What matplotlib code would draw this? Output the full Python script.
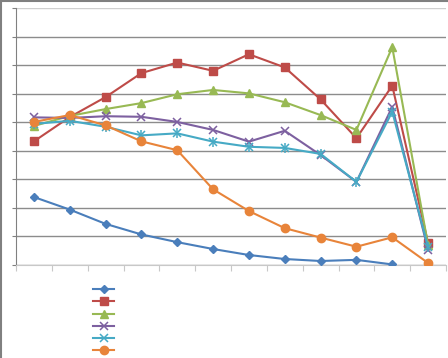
import numpy as np
import matplotlib.pyplot as plt
from matplotlib.lines import Line2D

### Data (gridline units, 0..9)

x = np.arange(12)

serie_1 = [2.38, 1.94, 1.44, 1.07, 0.80, 0.56, 0.35, 0.21, 0.14, 0.18, 0.02, np.nan]
serie_2 = [4.33, 5.18, 5.88, 6.72, 7.09, 6.80, 7.38, 6.92, 5.80, 4.44, 6.28, 0.77]
serie_3 = [4.87, 5.22, 5.46, 5.67, 5.98, 6.13, 6.01, 5.70, 5.25, 4.73, 7.63, 0.70]
serie_4 = [5.17, 5.15, 5.21, 5.19, 5.01, 4.73, 4.32, 4.70, 3.85, 2.91, 5.54, 0.53]
serie_5 = [4.94, 5.05, 4.84, 4.54, 4.61, 4.32, 4.14, 4.10, 3.89, 2.91, 5.37, 0.63]
serie_6 = [5.01, 5.25, 4.89, 4.33, 4.02, 2.65, 1.89, 1.29, 0.96, 0.64, 0.97, 0.07]

c_bleu = "#4A7EBB"
c_rouge = "#BE4B48"
c_vert = "#98B954"
c_violet = "#7D60A0"
c_cyan = "#46AAC5"
c_orange = "#E8843A"

### Figure

fig = plt.figure(figsize=(4.48, 3.58), dpi=100)
ax = fig.add_axes([16/448, 93/358, 430/448, 257/358])

lw = 1.5
ax.plot(x, serie_1, color=c_bleu, lw=lw, marker="D", ms=4.5, zorder=3)
ax.plot(x, serie_2, color=c_rouge, lw=lw, marker="s", ms=5.5, zorder=3)
ax.plot(x, serie_3, color=c_vert, lw=lw, marker="^", ms=6, zorder=3)
ax.plot(x, serie_4, color=c_violet, lw=lw, marker="x", ms=5.5, mew=1.1, zorder=3)
ax.plot(x, serie_5, color=c_cyan, lw=lw, marker="x", ms=5.5, mew=1.1, zorder=3)
ax.plot(x, serie_5, color=c_cyan, lw=0, marker="|", ms=6.5, mew=1.1, zorder=3)
ax.plot(x, serie_6, color=c_orange, lw=lw, marker="o", ms=6, zorder=3)

ax.set_xlim(-0.5, 11.5)
ax.set_ylim(0, 9)
ax.set_yticks(np.arange(0, 10))
ax.set_xticks(np.arange(-0.5, 12, 1))
ax.set_yticklabels([])
ax.set_xticklabels([])
ax.grid(axis="y", color="#8C8C8C", lw=1)
ax.get_ygridlines()[-1].set_color("#D0D0D0")
ax.set_axisbelow(True)
for s in ["top", "right"]:
    ax.spines[s].set_visible(False)
ax.spines["left"].set_color("#808080")
ax.spines["bottom"].set_color("#C8C8C8")
ax.tick_params(axis="y", length=3, color="#808080", direction="out")
ax.tick_params(axis="x", length=4, color="#C8C8C8", direction="out")

### Legend without text

handles = [
    Line2D([], [], color=c_bleu, lw=lw, marker="D", ms=4.5),
    Line2D([], [], color=c_rouge, lw=lw, marker="s", ms=5.5),
    Line2D([], [], color=c_vert, lw=lw, marker="^", ms=6),
    Line2D([], [], color=c_violet, lw=lw, marker="x", ms=5.5, mew=1.1),
    Line2D([], [], color=c_cyan, lw=lw, marker="x", ms=5.5, mew=1.1),
    Line2D([], [], color=c_orange, lw=lw, marker="o", ms=6),
]
fig.legend(handles, [""]*6, loc="upper left", bbox_to_anchor=(93/448, 1-285/358),
           frameon=False, fontsize=8, handlelength=1.9, labelspacing=0.2,
           borderpad=0, borderaxespad=0, handletextpad=0.3)

### Frame of the chart (top and left only)

fig.add_artist(Line2D([0, 1], [1-0.5/358, 1-0.5/358], color="#808080", lw=1.5, transform=fig.transFigure))
fig.add_artist(Line2D([0.5/448, 0.5/448], [0, 1], color="#808080", lw=1.5, transform=fig.transFigure))

plt.savefig("out.png", dpi=100)
